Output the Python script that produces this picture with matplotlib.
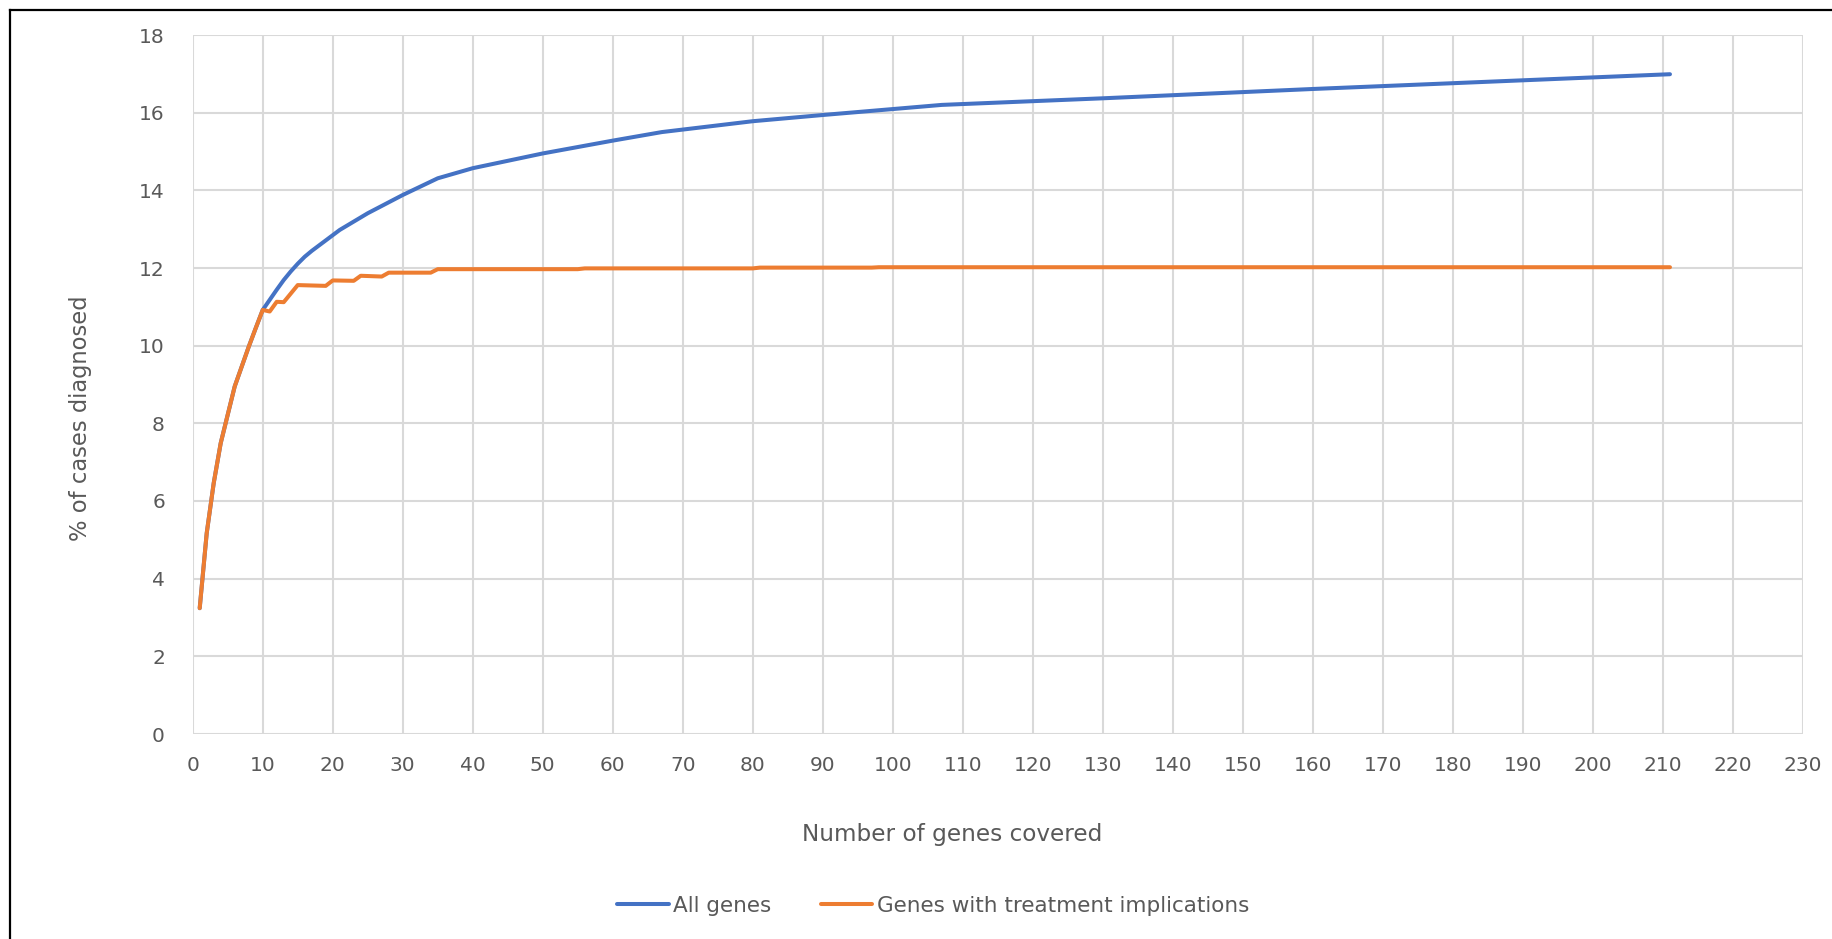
#!/usr/bin/env python3
# -*- coding: utf-8 -*-

import matplotlib

matplotlib.use("Agg")
import matplotlib.pyplot as plot
from matplotlib.lines import Line2D

# cumulative diagnostic yield as panel size grows
all_genes_x = [1, 2, 3, 4, 5, 6, 7, 8, 9, 10, 11, 12, 13, 14, 15, 16, 17,
               21, 25, 30, 35, 40, 50, 60, 67, 80, 90, 107, 130, 160, 211]
all_genes_y = [3.24, 5.17, 6.46, 7.49, 8.22, 8.95, 9.46, 9.97, 10.45, 10.92,
               11.18, 11.44, 11.69, 11.91, 12.11, 12.29, 12.44,
               12.98, 13.41, 13.88, 14.31, 14.57, 14.95, 15.28, 15.50,
               15.78, 15.94, 16.20, 16.37, 16.61, 16.99]

treatment_x = [1, 2, 3, 4, 5, 6, 7, 8, 9, 10, 11, 12, 13, 15, 19, 20, 23,
               24, 27, 28, 34, 35, 55, 56, 80, 81, 97, 98, 211]
treatment_y = [3.24, 5.17, 6.46, 7.49, 8.22, 8.95, 9.46, 9.97, 10.45, 10.92,
               10.88, 11.13, 11.12, 11.56, 11.54, 11.68, 11.67,
               11.80, 11.78, 11.88, 11.88, 11.97, 11.97, 11.99, 11.99,
               12.01, 12.01, 12.02, 12.02]

x_ticks = list(range(0, 231, 10))
y_ticks = list(range(0, 19, 2))

BLUE = "#4472C4"
ORANGE = "#ED7D31"
GRID = "#D9D9D9"
TEXT = "#595959"

plot.rcParams["font.family"] = ["DejaVu Sans"]

W, H = 1832, 939
fig = plot.figure(figsize=(W / 100, H / 100), dpi=100)
ax = fig.add_axes([192.7 / W, 1 - 734 / H, (1803 - 192.7) / W, (734 - 35) / H])

ax.plot(all_genes_x, all_genes_y, color=BLUE, lw=2.9, solid_capstyle="round",
        label="All genes", zorder=3)
ax.plot(treatment_x, treatment_y, color=ORANGE, lw=2.9, solid_capstyle="round",
        label="Genes with treatment implications", zorder=4)

ax.set_xlim(0, 230)
ax.set_ylim(0, 18)
ax.set_xticks(x_ticks)
ax.set_yticks(y_ticks)
ax.grid(True, color=GRID, lw=1.5)
ax.set_axisbelow(True)
for side in ("top", "right", "bottom", "left"):
    ax.spines[side].set_visible(False)
ax.tick_params(length=0, labelsize=14.5, labelcolor=TEXT, pad=16)
ax.tick_params(axis="y", pad=20)

# titles sit centred on the whole chart area, not just the plot box
fig.text(952 / W, 1 - 835 / H, "Number of genes covered", fontsize=16.7,
         color=TEXT, ha="center", va="center")
fig.text(81 / W, 1 - 418 / H, "% of cases diagnosed", fontsize=16.3,
         color=TEXT, ha="center", va="center", rotation=90)

leg = fig.legend(loc="center", bbox_to_anchor=(933 / W, 1 - 906 / H), ncol=2,
                 frameon=False, fontsize=15.5, handlelength=2.4,
                 handletextpad=0.2, columnspacing=2.3)
for text in leg.get_texts():
    text.set_color(TEXT)

# frame lines along the left and top edges
fig.add_artist(Line2D([10 / W, 10 / W], [0, 1 - 10 / H], color="black", lw=1.6))
fig.add_artist(Line2D([10 / W, 1], [1 - 10 / H, 1 - 10 / H], color="black", lw=1.6))

fig.savefig("out.png", dpi=100)
